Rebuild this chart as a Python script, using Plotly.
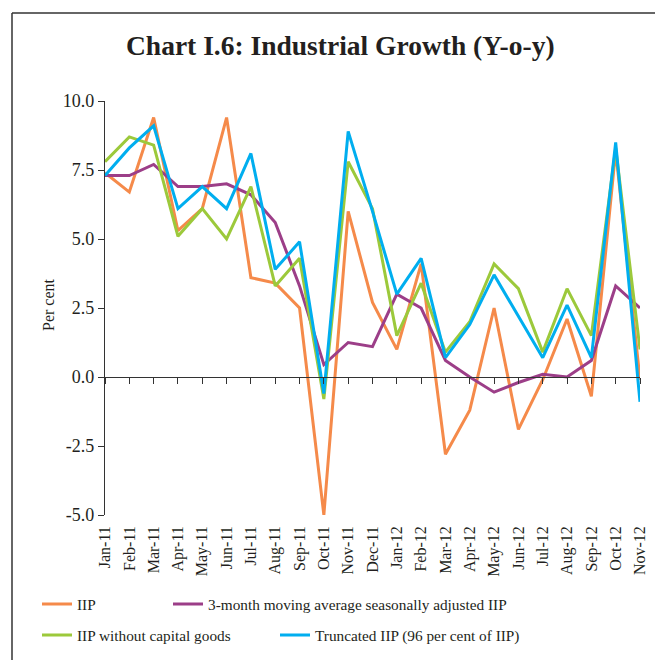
import plotly.graph_objects as go

months = ["Jan-11", "Feb-11", "Mar-11", "Apr-11", "May-11", "Jun-11", "Jul-11", "Aug-11",
          "Sep-11", "Oct-11", "Nov-11", "Dec-11", "Jan-12", "Feb-12", "Mar-12", "Apr-12",
          "May-12", "Jun-12", "Jul-12", "Aug-12", "Sep-12", "Oct-12", "Nov-12"]

iip = [7.4, 6.7, 9.4, 5.3, 6.1, 9.4, 3.6, 3.4, 2.5, -5.0, 6.0, 2.7, 1.0, 4.1, -2.8, -1.2,
       2.5, -1.9, -0.1, 2.1, -0.7, 8.2, -0.1]
mma3_sa = [7.3, 7.3, 7.7, 6.9, 6.9, 7.0, 6.6, 5.6, 3.3, 0.45, 1.25, 1.1, 3.0, 2.5, 0.6, 0.0,
           -0.55, -0.2, 0.1, 0.0, 0.6, 3.3, 2.5]
iip_ex_cap = [7.8, 8.7, 8.4, 5.1, 6.1, 5.0, 6.9, 3.3, 4.3, -0.8, 7.8, 6.1, 1.5, 3.4, 0.9, 2.0,
              4.1, 3.2, 0.9, 3.2, 1.5, 8.3, 1.0]
truncated = [7.3, 8.3, 9.1, 6.1, 6.9, 6.1, 8.1, 3.9, 4.9, -0.6, 8.9, 6.0, 3.0, 4.3, 0.7, 1.9,
             3.7, 2.2, 0.7, 2.6, 0.7, 8.5, -0.9]

y_ticks = [-5.0, -2.5, 0.0, 2.5, 5.0, 7.5, 10.0]
y_tick_text = ["-5.0", "-2.5", "0.0", "2.5", "5.0", "7.5", "10.0"]

names = ["IIP", "3-month moving average seasonally adjusted IIP",
         "IIP without capital goods", "Truncated IIP (96 per cent of IIP)"]
series = [iip, mma3_sa, iip_ex_cap, truncated]
colors = ["#F58A4A", "#9C3E88", "#9CC93B", "#00AEEF"]
legends = ["legend", "legend2", "legend3", "legend4"]

FONT = "Liberation Serif"
TXT = "#231F20"
FW, FH = 655, 660

fig = go.Figure()
for nm, s, c, lg in zip(names, series, colors, legends):
    fig.add_trace(go.Scatter(x=months, y=s, mode="lines", name=nm,
                             line=dict(color=c, width=3), legend=lg))

# dummy trace so that the bottom label axis is drawn
fig.add_trace(go.Scatter(x=months, y=[None] * len(months), xaxis="x2", yaxis="y",
                         showlegend=False, hoverinfo="skip", mode="lines"))

# px -> paper helpers for layout decoration
L, R, T, B = 105, 15, 101, 145
W, H = FW - L - R, FH - T - B


def px(xp):
    return (xp - L) / W


def py(yp):
    return (FH - B - yp) / H


fig.update_layout(
    width=FW, height=FH,
    margin=dict(l=L, r=R, t=T, b=B, autoexpand=False),
    paper_bgcolor="white", plot_bgcolor="white",
    font=dict(family=FONT, color=TXT, size=16),
    showlegend=True,
    xaxis=dict(type="category", range=[0, len(months) - 1], anchor="free",
               position=(0 - (-5)) / 15, showline=True, linecolor="#333", linewidth=1.2,
               ticks="outside", ticklen=6, tickcolor="#333", showticklabels=False,
               showgrid=False, zeroline=False, automargin=False),
    xaxis2=dict(type="category", range=[0, len(months) - 1], overlaying="x", anchor="y",
                side="bottom", showline=False, ticks="", tickangle=-90,
                tickfont=dict(family=FONT, size=16, color=TXT), showgrid=False,
                zeroline=False, ticklabelstandoff=7, automargin=False),
    yaxis=dict(range=[-5, 10], tickvals=y_ticks, ticktext=y_tick_text, showline=True,
               linecolor="#333", linewidth=1.2, ticks="outside", ticklen=6, tickcolor="#333",
               tickfont=dict(family=FONT, size=18, color=TXT), showgrid=False,
               zeroline=False, automargin=False),
    annotations=[
        dict(text="<b>Chart I.6: Industrial Growth (Y-o-y)</b>", xref="paper", yref="paper",
             x=px(340), y=py(45), xanchor="center", yanchor="middle", showarrow=False,
             font=dict(family=FONT, size=27.5, color=TXT)),
        dict(text="Per cent", xref="paper", yref="paper", x=px(48), y=py(305),
             textangle=-90, xanchor="center", yanchor="middle", showarrow=False,
             font=dict(family=FONT, size=16, color=TXT)),
    ],
    shapes=[
        dict(type="line", xref="paper", yref="paper", x0=px(12), x1=px(12), y0=py(13),
             y1=py(665), line=dict(color="#333", width=1.5)),
        dict(type="line", xref="paper", yref="paper", x0=px(12), x1=px(660), y0=py(13),
             y1=py(13), line=dict(color="#333", width=1.5)),
    ],
)

leg_common = dict(orientation="h", xanchor="left", yanchor="middle", bgcolor="rgba(0,0,0,0)",
                  xref="container", yref="container",
                  itemwidth=30, font=dict(family=FONT, size=15.3, color=TXT))
fig.update_layout(
    legend=dict(x=37 / FW, y=1 - 604 / FH, **leg_common),
    legend2=dict(x=168 / FW, y=1 - 604 / FH, **leg_common),
    legend3=dict(x=37 / FW, y=1 - 635 / FH, **leg_common),
    legend4=dict(x=275 / FW, y=1 - 635 / FH, **leg_common),
)

fig.write_html("out.html", config={"displayModeBar": False},
               post_script="document.body.style.margin='0';")
